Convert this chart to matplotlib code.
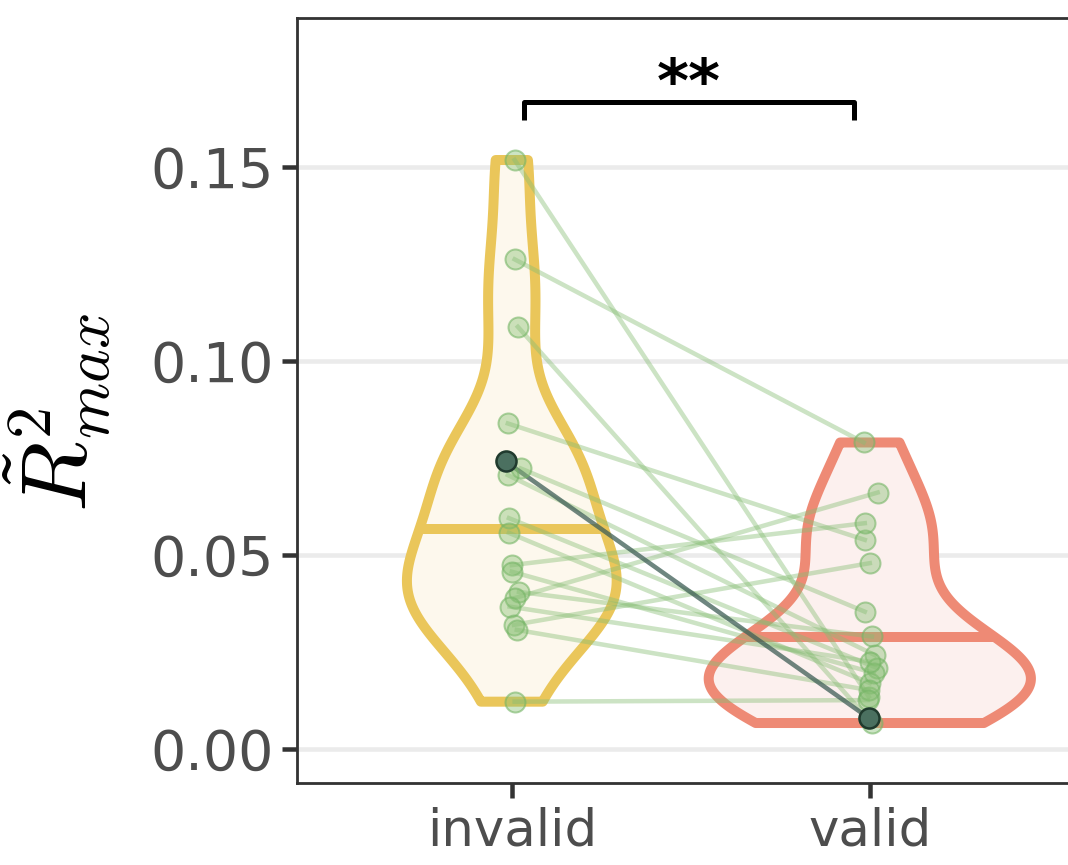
import numpy as np
import matplotlib
matplotlib.use("Agg")
import matplotlib.pyplot as plt
from matplotlib.patches import Polygon

# ---- data ----
categories = ["invalid", "valid"]
invalid_vals = [0.1518, 0.1262, 0.1088, 0.0839, 0.0741, 0.0723, 0.0706, 0.0595, 0.0557,
                0.0474, 0.0457, 0.0405, 0.0389, 0.0367, 0.0320, 0.0307, 0.0122]
valid_vals = [0.0135, 0.0790, 0.0067, 0.0539, 0.0080, 0.0354, 0.0242, 0.0209, 0.0170,
              0.0582, 0.0196, 0.0290, 0.0661, 0.0225, 0.0479, 0.0152, 0.0126]
invalid_jitter = [0.008, 0.008, 0.017, -0.011, -0.017, 0.025, -0.011, -0.008, -0.008,
                  0.0, 0.0, 0.020, 0.008, -0.006, 0.006, 0.014, 0.008]
valid_jitter = [-0.003, -0.017, 0.006, -0.014, -0.003, -0.014, 0.014, 0.020, 0.0,
                -0.014, 0.011, 0.006, 0.022, 0.0, 0.0, -0.003, -0.006]
highlight_index = 4          # the dark pair
yticks = [0.00, 0.05, 0.10, 0.15]
ytick_labels = ["0.00", "0.05", "0.10", "0.15"]
sig_label = "**"

W, H, DPI = 1068, 865, 100
fig = plt.figure(figsize=(W / DPI, H / DPI), dpi=DPI)
plt.rcParams['mathtext.fontset'] = 'cm'
ax = fig.add_axes([297 / W, 1 - 783 / H, 787.6 / W, (783 - 18) / H])
ax.set_xlim(0.4, 2.6)
ax.set_ylim(-0.00876, 0.1884)

def px(v):
    return v * 72 / DPI

def kde(vals):
    v = np.asarray(vals)
    n = len(v)
    sd = v.std(ddof=1)
    iqr = np.subtract(*np.percentile(v, [75, 25]))
    bw = 0.9 * min(sd, iqr / 1.34) * n ** -0.2
    y = np.linspace(v.min(), v.max(), 512)
    d = np.exp(-0.5 * ((y[:, None] - v[None, :]) / bw) ** 2).sum(1) / (n * bw * np.sqrt(2 * np.pi))
    return y, d

groups = [invalid_vals, valid_vals]
edge_cols = ["#EAC65A", "#EE8A75"]
fill_cols = ["#FDF8ED", "#FCF0EE"]
dens = [kde(g) for g in groups]
dmax = max(d.max() for _, d in dens)
for i, ((y, d), ec, fc) in enumerate(zip(dens, edge_cols, fill_cols)):
    c = i + 1
    hw = 0.45 * d / dmax
    xs = np.concatenate([c - hw, (c + hw)[::-1]])
    ys = np.concatenate([y, y[::-1]])
    poly = Polygon(np.column_stack([xs, ys]), closed=True, facecolor=fc, edgecolor=ec,
                   lw=px(10), joinstyle='round', zorder=2)
    ax.add_patch(poly)
    # median from density
    cum = np.cumsum(d)
    cum = cum / cum[-1]
    ym = np.interp(0.5, cum, y)
    hwm = np.interp(ym, y, hw)
    ax.plot([c - hwm, c + hwm], [ym, ym], color=ec, lw=px(10), solid_capstyle='butt', zorder=2.1)

# paired lines
green = "#86BD74"
for k, (a, b) in enumerate(zip(invalid_vals, valid_vals)):
    x0 = 1 + invalid_jitter[k]
    x1 = 2 + valid_jitter[k]
    if k == highlight_index:
        continue
    ax.plot([x0, x1], [a, b], color=green, alpha=0.42, lw=px(4.5), zorder=3)
k = highlight_index
ax.plot([1 + invalid_jitter[k], 2 + valid_jitter[k]], [invalid_vals[k], valid_vals[k]],
        color="#3E5E56", alpha=0.75, lw=px(4.5), zorder=3.5)

# points
for c, vals, jit in [(1, invalid_vals, invalid_jitter), (2, valid_vals, valid_jitter)]:
    xs = [c + j for j in jit]
    ax.scatter(xs, vals, s=px(20) ** 2, facecolor=(0.53, 0.75, 0.45, 0.42),
               edgecolor=(0.46, 0.71, 0.40, 0.6), lw=px(2), zorder=4)
k = highlight_index
for c, vals, jit in [(1, invalid_vals, invalid_jitter), (2, valid_vals, valid_jitter)]:
    ax.scatter([c + jit[k]], [vals[k]], s=px(20) ** 2, facecolor="#4B7060",
               edgecolor="#203A2E", lw=px(2.5), zorder=5)

# significance bracket
bx0, bx1 = 1.033, 1.957
by, btip = 0.1668, 0.1621
ax.plot([bx0, bx0, bx1, bx1], [btip, by, by, btip], color="black", lw=px(5),
        solid_joinstyle='round', solid_capstyle='butt', zorder=6)
ax.text((bx0 + bx1) / 2, 0.1668, sig_label, ha='center', va='baseline', fontsize=44,
        fontweight='bold', color='black', family='DejaVu Sans')

# axes styling
ax.set_yticks(yticks)
ax.set_yticklabels(ytick_labels)
ax.set_xticks([1, 2])
ax.set_xticklabels(categories)
ax.grid(axis='y', color='#EBEBEB', lw=px(4.5), zorder=0)
ax.grid(axis='x', visible=False)
ax.set_axisbelow(True)
for s in ax.spines.values():
    s.set_color('#333333')
    s.set_linewidth(px(2.8))
ax.tick_params(axis='both', length=px(15), width=px(4.5), color='#333333',
               labelcolor='#4D4D4D', pad=px(8))
ax.tick_params(axis='x', labelsize=37)
ax.tick_params(axis='y', labelsize=40)
for t in ax.get_yticklabels() + ax.get_xticklabels():
    t.set_family('DejaVu Sans')
ax.set_ylabel(r'$\tilde{R}^2_{max}$', fontsize=66, color='black')
ax.yaxis.set_label_coords(-0.232, 0.485)

fig.savefig("out.png", dpi=DPI)
